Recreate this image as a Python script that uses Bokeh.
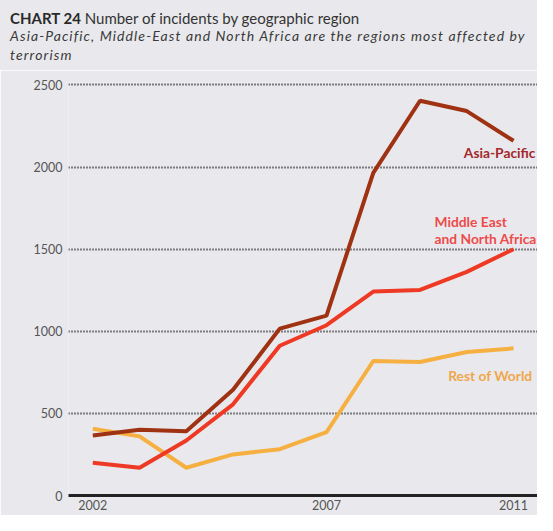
from bokeh.plotting import figure
from bokeh.models import FixedTicker, Range1d, Div
from bokeh.layouts import column
from bokeh.core.properties import value
from bokeh.embed import file_html
from bokeh.resources import INLINE

# ---- data ----
years = [2002, 2003, 2004, 2005, 2006, 2007, 2008, 2009, 2010, 2011]
asia_pacific = [365, 400, 392, 644, 1016, 1095, 1965, 2404, 2341, 2160]
middle_east_north_africa = [199, 169, 335, 555, 912, 1037, 1242, 1252, 1362, 1500]
rest_of_world = [407, 360, 169, 250, 282, 386, 819, 813, 874, 896]
series_names = ["Asia-Pacific", "Middle East\nand North Africa", "Rest of World"]
x_ticks = [2002, 2007, 2011]
y_ticks = [0, 500, 1000, 1500, 2000, 2500]
title_bold = "CHART 24"
title_rest = "Number of incidents by geographic region"
subtitle_lines = ["Asia-Pacific, Middle-East and North Africa are the regions most affected by",
                  "terrorism"]

FONT = "Lato"
BG = "#E9E9ED"
C_ASIA, C_MENA, C_ROW = "#9E3212", "#EE3A24", "#F6B042"
L_ASIA, L_MENA, L_ROW = "#A4282B", "#EE4B4B", "#EFA74C"

W, H = 537, 515
HEAD_H = 70

# ---- header ----
html = (
    f'<div style="position:relative;width:{W}px;height:{HEAD_H}px;font-family:{FONT};'
    f'background:{BG};margin:0;padding:0;">'
    f'<div style="position:absolute;left:10px;top:8.5px;font-size:15px;line-height:18px;'
    f'color:#333333;white-space:nowrap;">'
    f'<b style="color:#2a2a2a;font-weight:bold;">{title_bold}</b> {title_rest}</div>'
    f'<div style="position:absolute;left:10px;top:26.1px;font-size:14px;line-height:19px;'
    f'letter-spacing:1.1px;font-style:italic;color:#3a3a3a;white-space:nowrap;">'
    f'{subtitle_lines[0]}<br>{subtitle_lines[1]}</div>'
    f'</div>'
)
head = Div(text=html, width=W, height=HEAD_H,
           styles={"background-color": BG, "margin": "0", "padding": "0"})

# ---- main chart ----
p = figure(width=W, height=H - HEAD_H, output_backend="svg", toolbar_location=None,
           x_range=Range1d(2001.48, 2011.513), y_range=Range1d(0, 2515),
           min_border_left=68, min_border_right=0, min_border_top=12, min_border_bottom=20,
           background_fill_color=BG, border_fill_color=BG, outline_line_color=None)

p.xaxis.ticker = FixedTicker(ticks=x_ticks)
p.xaxis.axis_line_width = 3
p.xaxis.axis_line_color = "#222222"
p.xaxis.major_tick_line_color = None
p.xaxis.major_tick_out = 0
p.xaxis.major_tick_in = 0
p.xaxis.minor_tick_line_color = None
p.xaxis.major_label_standoff = 4
p.xaxis.major_label_text_font = FONT
p.xaxis.major_label_text_font_size = "12.5px"
p.xaxis.major_label_text_color = "#555555"

p.yaxis.ticker = FixedTicker(ticks=y_ticks)
p.yaxis.axis_line_color = None
p.yaxis.major_tick_line_color = None
p.yaxis.major_tick_out = 0
p.yaxis.major_tick_in = 0
p.yaxis.minor_tick_line_color = None
p.yaxis.major_label_standoff = 6
p.yaxis.major_label_text_font = FONT
p.yaxis.major_label_text_font_size = "12.5px"
p.yaxis.major_label_text_color = "#555555"

p.xgrid.grid_line_color = None
p.ygrid.ticker = FixedTicker(ticks=y_ticks[1:])
p.ygrid.grid_line_color = "#111111"
p.ygrid.grid_line_dash = "1 2"
p.ygrid.grid_line_width = 1.8

p.line(years, rest_of_world, line_color=C_ROW, line_width=4)
p.line(years, middle_east_north_africa, line_color=C_MENA, line_width=4)
p.line(years, asia_pacific, line_color=C_ASIA, line_width=4)

lbl = dict(text_font=value(FONT), text_font_style="bold", text_font_size="13.8px",
           text_baseline="alphabetic")
p.text(x=[years[-1]], y=[asia_pacific[-1]], text=[series_names[0]],
       x_offset=22, y_offset=12, text_align="right", text_color=L_ASIA, **lbl)
mena_lines = series_names[1].split("\n")
p.text(x=[years[-1]], y=[middle_east_north_africa[-1]], text=[mena_lines[0]],
       x_offset=-79, y_offset=-27.6, text_align="left", text_color=L_MENA, **lbl)
p.text(x=[years[-1]], y=[middle_east_north_africa[-1]], text=[mena_lines[1]],
       x_offset=-79, y_offset=-11, text_align="left", text_color=L_MENA, **lbl)
p.text(x=[years[-1]], y=[rest_of_world[-1]], text=[series_names[2]],
       x_offset=19, y_offset=27, text_align="right", text_color=L_ROW, **lbl)

layout = column(head, p, spacing=0)
open("out.html", "w").write(file_html(layout, INLINE))
